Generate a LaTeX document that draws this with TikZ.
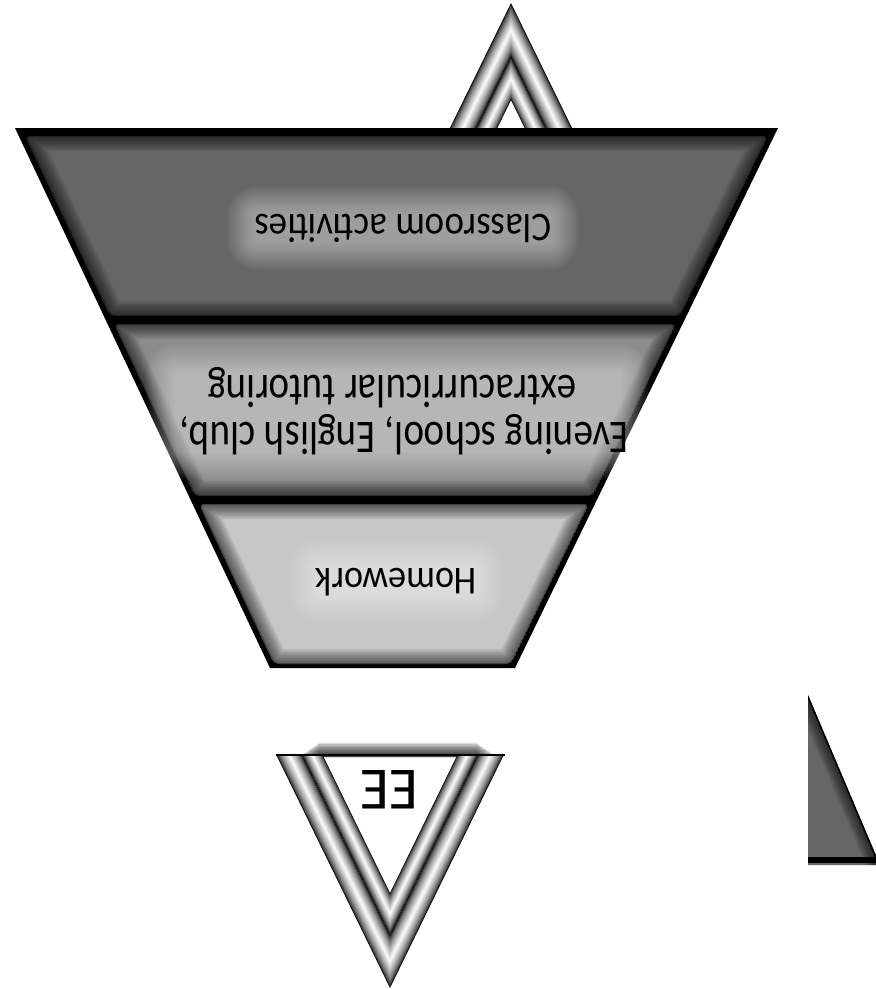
\documentclass[tikz,border=0pt]{standalone}
\usepackage{fontspec}
\setmainfont{Carlito}
\definecolor{bandA}{gray}{0.40}
\definecolor{bandB}{gray}{0.55}
\definecolor{bandC}{gray}{0.78}
\newcommand\metalstroke[4]{% #1 width, #2 left end, #3 apex, #4 right end
  \draw[line width=#1 pt, black, line join=miter, line cap=butt] #2 -- #3 -- #4;
  \foreach \i in {1,...,18}{
    \pgfmathsetmacro\lw{(1-\i/19)*#1}
    \pgfmathsetmacro\p{100*(1-(\i/19)^0.6)}
    \draw[line width=\lw pt, color=black!\p, line join=miter, line cap=butt] #2 -- #3 -- #4;
  }}
\newcommand\funnelband[5]{% four corners, colour
  \begin{scope}
    \clip[rounded corners=5pt] #1 -- #2 -- #3 -- #4 -- cycle;
    \fill[#5] #1 -- #2 -- #3 -- #4 -- cycle;
    \foreach \w in {30,27,...,3}{
      \draw[line width=\w pt, black, opacity=0.07, rounded corners=5pt] #1 -- #2 -- #3 -- #4 -- cycle;
    }
    \draw[line width=2pt, black, opacity=0.3, rounded corners=5pt] #1 -- #2 -- #3 -- #4 -- cycle;
  \end{scope}}
\newcommand\textglow[4]{% cx cy halfw halfh
  \foreach \k in {1,...,20}{
    \pgfmathsetmacro\e{1.5*\k}
    \fill[white, opacity=0.028, rounded corners=\e pt] (#1-#3-\e+4, #2-#4-\e+2) rectangle (#1+#3+\e-4, #2+#4+\e-2);
  }}
\tikzset{lbl/.style={rotate=180, inner sep=0pt, anchor=base, text=black}}
\begin{document}
\begin{tikzpicture}[x=1pt, y=-1pt]
\useasboundingbox (0,0) rectangle (876,989);
\fill[white] (0,0) rectangle (876,989);

% top chevron (base hidden behind funnel)
\metalstroke{23.7}{(452.4,150)}{(511,30)}{(569.6,150)}
\metalstroke{18.9}{(476.1,150)}{(511,78.5)}{(545.9,150)}

% bottom chevron with EE
\foreach \k in {1,...,9}{
  \fill[black, opacity=0.13, rounded corners=3pt] (298+2.2*\k,756-1.5*\k) rectangle (498-2.2*\k,757);
}
\begin{scope}
  \clip (0,755) rectangle (876,989);
  \metalstroke{23.2}{(281.9,740)}{(390,961.5)}{(498.1,740)}
  \metalstroke{18.4}{(305.1,740)}{(390,914)}{(474.9,740)}
\end{scope}
\draw[line width=2pt] (276,755) -- (505,755);
\node[lbl, font=\fontsize{60}{72}\selectfont] (ee) at (389,770) {EE};

% funnel
\fill[black] (15,128) -- (778,128) -- (515,668) -- (270,668) -- cycle;
\funnelband{(25,136)}{(768,136)}{(680,316)}{(110,316)}{bandA}
\funnelband{(114,324)}{(676,324)}{(593,496)}{(195,496)}{bandB}
\funnelband{(199,504)}{(589,504)}{(511,664)}{(274,664)}{bandC}

\textglow{403}{228}{150}{14}
\textglow{398}{412}{226}{40}
\textglow{396}{581}{82}{14}

\node[lbl, font=\fontsize{37}{44}\selectfont] (classroom) at (403,214) {\scalebox{1}[1.1]{Classroom activities}};
\node[lbl, font=\fontsize{39}{47}\selectfont] (evening) at (404,422) {\scalebox{1}[1.2]{Evening school, English club,}};
\node[lbl, font=\fontsize{39}{47}\selectfont] (extra) at (392,375) {\scalebox{1}[1.2]{extracurricular tutoring}};
\node[lbl, font=\fontsize{36}{43}\selectfont] (homework) at (396,568) {\scalebox{1}[1.1]{Homework}};

% right-hand triangle
\begin{scope}
  \clip (808,695) -- (880,865) -- (808,865) -- cycle;
  \fill[bandA] (808,695) -- (880,865) -- (808,865) -- cycle;
  \foreach \w in {26,23,...,2}{
    \draw[line width=\w pt, black, opacity=0.09] (808,695) -- (880,865);
  }
  \draw[line width=3pt, black] (808,695) -- (880,865);
\end{scope}
\draw[line width=6pt] (808,860) -- (880,860);
\end{tikzpicture}
\end{document}
